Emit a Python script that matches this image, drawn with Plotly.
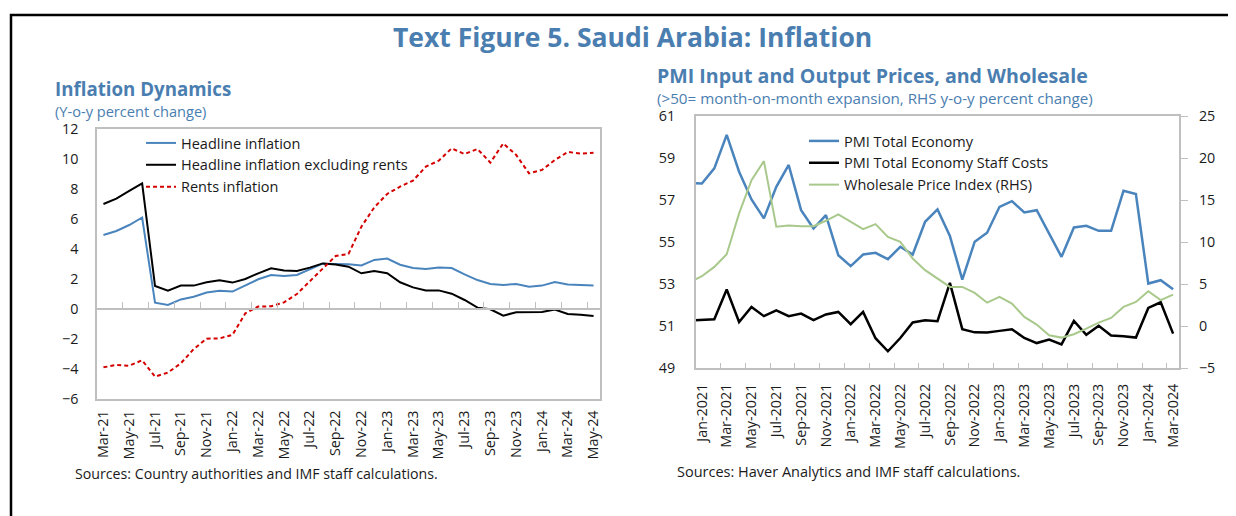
import plotly.graph_objects as go

# ---------------- Left chart data ----------------
left_months = ["Mar-21","Apr-21","May-21","Jun-21","Jul-21","Aug-21","Sep-21","Oct-21","Nov-21","Dec-21",
               "Jan-22","Feb-22","Mar-22","Apr-22","May-22","Jun-22","Jul-22","Aug-22","Sep-22","Oct-22",
               "Nov-22","Dec-22","Jan-23","Feb-23","Mar-23","Apr-23","May-23","Jun-23","Jul-23","Aug-23",
               "Sep-23","Oct-23","Nov-23","Dec-23","Jan-24","Feb-24","Mar-24","Apr-24","May-24"]
headline = [4.93,5.2,5.6,6.1,0.42,0.27,0.64,0.82,1.1,1.22,
            1.16,1.56,1.98,2.27,2.2,2.27,2.67,3.02,3.0,2.98,
            2.9,3.27,3.36,2.95,2.73,2.67,2.76,2.73,2.31,1.93,
            1.67,1.6,1.67,1.49,1.56,1.8,1.64,1.6,1.56]
excl_rents = [7.0,7.36,7.87,8.38,1.53,1.22,1.56,1.56,1.78,1.91,
              1.76,2.0,2.38,2.71,2.56,2.53,2.76,3.04,2.96,2.82,
              2.38,2.53,2.38,1.78,1.44,1.24,1.24,1.02,0.6,0.09,
              -0.02,-0.44,-0.22,-0.2,-0.2,-0.04,-0.33,-0.38,-0.47]
rents = [-3.89,-3.73,-3.78,-3.42,-4.51,-4.24,-3.62,-2.67,-1.98,-1.96,
         -1.73,-0.29,0.16,0.18,0.44,1.0,1.85,2.71,3.53,3.67,
         5.49,6.78,7.67,8.16,8.56,9.49,9.89,10.71,10.33,10.67,
         9.76,11.04,10.27,9.04,9.27,9.93,10.47,10.36,10.42]
left_ticks = left_months[::2]

# ---------------- Right chart data ----------------
right_months = ["Dec-2020","Jan-2021","Feb-2021","Mar-2021","Apr-2021","May-2021","Jun-2021","Jul-2021","Aug-2021",
                "Sep-2021","Oct-2021","Nov-2021","Dec-2021","Jan-2022","Feb-2022","Mar-2022","Apr-2022","May-2022",
                "Jun-2022","Jul-2022","Aug-2022","Sep-2022","Oct-2022","Nov-2022","Dec-2022","Jan-2023","Feb-2023",
                "Mar-2023","Apr-2023","May-2023","Jun-2023","Jul-2023","Aug-2023","Sep-2023","Oct-2023","Nov-2023",
                "Dec-2023","Jan-2024","Feb-2024","Mar-2024"]
pmi_total = [57.8,57.79,58.51,60.1,58.35,57.03,56.13,57.63,58.67,56.52,55.65,56.29,54.38,53.86,54.41,54.49,
             54.19,54.78,54.41,55.97,56.56,55.29,53.22,55.02,55.45,56.68,56.95,56.41,56.52,55.41,54.3,55.7,
             55.78,55.54,55.54,57.44,57.29,53.03,53.19,52.76]
pmi_staff = [51.28,51.3,51.33,52.75,51.2,51.92,51.48,51.76,51.48,51.6,51.29,51.56,51.68,51.1,51.68,50.43,
             49.81,50.44,51.18,51.29,51.24,53.06,50.86,50.71,50.7,50.78,50.86,50.44,50.2,50.37,50.14,51.25,
             50.59,51.02,50.56,50.52,50.46,51.87,52.14,50.65]
wholesale = [5.2,5.95,7.06,8.57,13.42,17.38,19.64,11.83,11.99,11.9,11.9,12.54,13.3,12.42,11.55,12.14,
             10.63,10.04,8.06,6.67,5.67,4.68,4.68,3.97,2.8,3.49,2.7,1.11,0.2,-1.07,-1.35,-0.95,
             -0.28,0.44,0.99,2.3,2.89,4.17,3.1,3.77]
right_ticks = right_months[1::2]

# ---------------- Styling ----------------
WIN_W, WIN_H = 1236, 516
OFF = 8  # default page body margin
W, H = WIN_W - OFF, WIN_H - OFF
FONT = "Segoe UI, Open Sans, sans-serif"
TITLE_BLUE = "#4a7eb0"
LINE_BLUE = "#4a84bd"
GREEN = "#a9c98c"
RED = "#d40000"
AXIS_GRAY = "#bfbfbf"
TXT = "#1a1a1a"

def px(x):
    return (x - OFF) / W

def py(y):
    return 1 - (y - OFF) / H

L_X = [px(97), px(600)]
L_Y = [py(399), py(129)]
R_X = [px(695.7), px(1179.3)]
R_Y = [py(368.3), py(116)]
L_RANGE = [-6, 12]
zero_pos = L_Y[0] + (0 - L_RANGE[0]) / (L_RANGE[1] - L_RANGE[0]) * (L_Y[1] - L_Y[0])

fig = go.Figure()

fig.add_trace(go.Scatter(x=left_months, y=headline, name="Headline inflation", mode="lines",
                         line=dict(color=LINE_BLUE, width=2), xaxis="x", yaxis="y", legend="legend"))
fig.add_trace(go.Scatter(x=left_months, y=excl_rents, name="Headline inflation excluding rents", mode="lines",
                         line=dict(color="#000000", width=2), xaxis="x", yaxis="y", legend="legend"))
fig.add_trace(go.Scatter(x=left_months, y=rents, name="Rents inflation", mode="lines",
                         line=dict(color=RED, width=2, dash="4px,3px"), xaxis="x", yaxis="y", legend="legend"))
# invisible trace to carry the zero-line tick axis
fig.add_trace(go.Scatter(x=left_months, y=[None] * len(left_months), mode="lines", showlegend=False,
                         hoverinfo="skip", xaxis="x3", yaxis="y"))

fig.add_trace(go.Scatter(x=right_months, y=pmi_total, name="PMI Total Economy", mode="lines",
                         line=dict(color=LINE_BLUE, width=2.5), xaxis="x2", yaxis="y2", legend="legend2"))
fig.add_trace(go.Scatter(x=right_months, y=pmi_staff, name="PMI Total Economy Staff Costs", mode="lines",
                         line=dict(color="#000000", width=2.5), xaxis="x2", yaxis="y2", legend="legend2"))
fig.add_trace(go.Scatter(x=right_months, y=wholesale, name="Wholesale Price Index (RHS)", mode="lines",
                         line=dict(color=GREEN, width=2), xaxis="x2", yaxis="y3", legend="legend2"))

tickfont = dict(family=FONT, size=14.3, color=TXT)

fig.update_layout(
    width=W, height=H, margin=dict(l=0, r=0, t=0, b=0, autoexpand=False),
    paper_bgcolor="white", plot_bgcolor="white",
    font=dict(family=FONT, color=TXT),
    xaxis=dict(domain=L_X, anchor="y", type="category", categoryorder="array", categoryarray=left_months,
               range=[-0.5, len(left_months) - 0.5], tickmode="array", tickvals=left_ticks, ticktext=left_ticks,
               tickangle=-90, ticks="", showline=True, linecolor=AXIS_GRAY, linewidth=1.5, mirror=True,
               showgrid=False, zeroline=False, tickfont=tickfont, ticklabelstandoff=4, automargin=False),
    xaxis3=dict(domain=L_X, anchor="free", position=zero_pos, overlaying="x", matches="x", type="category",
                tickmode="array", tickvals=left_ticks, tickson="boundaries", ticks="inside", ticklen=6,
                tickcolor=AXIS_GRAY, showticklabels=False, showline=True, linecolor=AXIS_GRAY, linewidth=1.5,
                showgrid=False, zeroline=False, automargin=False),
    yaxis=dict(domain=L_Y, anchor="x", range=L_RANGE, dtick=2, tick0=0, showgrid=False, zeroline=False,
               showline=True, linecolor=AXIS_GRAY, linewidth=1.5, mirror=True, ticks="",
               tickfont=tickfont, ticklabelstandoff=14, automargin=False),
    xaxis2=dict(domain=R_X, anchor="y2", type="category", categoryorder="array", categoryarray=right_months,
                range=[0.5, len(right_months) - 0.5], tickmode="array", tickvals=right_ticks, ticktext=right_ticks,
                tickangle=-90, tickson="boundaries", ticks="inside", ticklen=6, tickcolor=AXIS_GRAY,
                showline=True, linecolor=AXIS_GRAY, linewidth=1.5, mirror=True, showgrid=False, zeroline=False,
                tickfont=tickfont, ticklabelstandoff=8, automargin=False),
    yaxis2=dict(domain=R_Y, anchor="x2", range=[49, 61], dtick=2, tick0=49, showgrid=False, zeroline=False,
                showline=True, linecolor=AXIS_GRAY, linewidth=1.5, mirror=True, ticks="",
                tickfont=tickfont, ticklabelstandoff=16, automargin=False),
    yaxis3=dict(domain=R_Y, anchor="x2", overlaying="y2", side="right", range=[-5, 25], dtick=5, tick0=0,
                showgrid=False, zeroline=False, showline=True, linecolor=AXIS_GRAY, linewidth=1.5,
                ticks="outside", ticklen=7, tickcolor=AXIS_GRAY, tickfont=tickfont, ticklabelstandoff=8,
                automargin=False),
    legend=dict(x=px(141), y=py(127), xanchor="left", yanchor="top", bgcolor="rgba(0,0,0,0)",
                font=dict(family=FONT, size=14.5, color=TXT), itemwidth=30, tracegroupgap=0),
    legend2=dict(x=px(804), y=py(125), xanchor="left", yanchor="top", bgcolor="rgba(0,0,0,0)",
                 font=dict(family=FONT, size=14.5, color=TXT), itemwidth=30, tracegroupgap=0),
    showlegend=True,
)

annos = [
    dict(text="<b>Text Figure 5. Saudi Arabia: Inflation</b>", x=px(632), y=py(37), xanchor="center",
         yanchor="middle", font=dict(family=FONT, size=26.5, color=TITLE_BLUE)),
    dict(text="<b>Inflation Dynamics</b>", x=px(53), y=py(89), xanchor="left", yanchor="middle",
         font=dict(family=FONT, size=18.7, color=TITLE_BLUE)),
    dict(text="(Y-o-y percent change)", x=px(53), y=py(111), xanchor="left", yanchor="middle",
         font=dict(family=FONT, size=14.6, color=TITLE_BLUE)),
    dict(text="<b>PMI Input and Output Prices, and Wholesale</b>", x=px(655), y=py(75), xanchor="left",
         yanchor="middle", font=dict(family=FONT, size=19.6, color=TITLE_BLUE)),
    dict(text="(>50= month-on-month expansion, RHS y-o-y percent change)", x=px(655), y=py(98), xanchor="left",
         yanchor="middle", font=dict(family=FONT, size=15.2, color=TITLE_BLUE)),
    dict(text="Sources: Country authorities and IMF staff calculations.", x=px(73), y=py(473), xanchor="left",
         yanchor="middle", font=dict(family=FONT, size=14.2, color=TXT)),
    dict(text="Sources: Haver Analytics and IMF staff calculations.", x=px(675), y=py(471), xanchor="left",
         yanchor="middle", font=dict(family=FONT, size=14.5, color=TXT)),
]
for a in annos:
    fig.add_annotation(xref="paper", yref="paper", showarrow=False, **a)

# outer frame (top and left edges)
fig.add_shape(type="path", xref="paper", yref="paper",
              path=f"M {px(11)} {py(530)} L {px(11)} {py(15)} L {px(1250)} {py(15)}",
              line=dict(color="black", width=2.5))

fig.write_html("out.html")
